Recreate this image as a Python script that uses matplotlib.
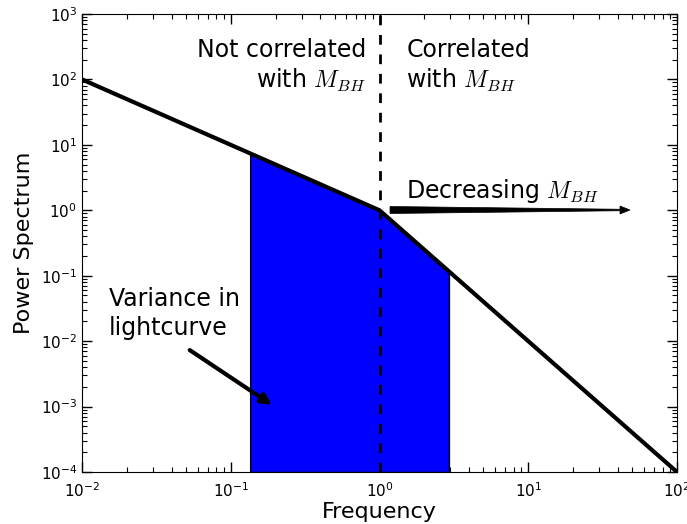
import math
import matplotlib
matplotlib.use("Agg")
import matplotlib.pyplot as plt
from matplotlib.patches import Polygon
from matplotlib.ticker import FuncFormatter, LogLocator

plt.rcParams['mathtext.fontset'] = 'cm'
plt.rcParams['font.family'] = ['DejaVu Sans']

# data
freq = [0.01, 1.0, 100.0]
power = [100.0, 1.0, 1e-4]
shade_freq = [0.135, 1.0, 2.93]
shade_power = [7.4, 1.0, 0.1165]
break_freq = 1.0

fig = plt.figure(figsize=(6.87, 5.24), dpi=100)
ax = fig.add_axes([82/687, 1 - 472/524, 595/687, 458/524])
ax.set_xscale('log')
ax.set_yscale('log')
ax.set_xlim(1e-2, 1e2)
ax.set_ylim(1e-4, 1e3)

ax.fill_between(shade_freq, [1e-4]*3, shade_power, facecolor='#0000ff',
                edgecolor='black', linewidth=1, zorder=2)
ax.plot(freq, power, color='black', lw=3, zorder=3)
ax.axvline(break_freq, color='black', lw=2, ls=(0, (3.5, 3.5)), zorder=4)

fmt = FuncFormatter(lambda v, p: r'$\mathregular{10^{%d}}$' % round(math.log10(v)))
ax.xaxis.set_major_formatter(fmt)
ax.yaxis.set_major_formatter(fmt)
ax.xaxis.set_major_locator(LogLocator(base=10, numticks=10))
ax.yaxis.set_major_locator(LogLocator(base=10, numticks=10))
ax.tick_params(which='both', direction='in', top=True, right=True, labelsize=11)
ax.tick_params(which='major', length=7, width=1)
ax.tick_params(which='minor', length=3.5, width=0.8)
ax.tick_params(axis='x', pad=7)

ax.set_xlabel('Frequency', fontsize=16, labelpad=1)
ax.set_ylabel('Power Spectrum', fontsize=16, labelpad=5)

fs = 17
ax.text(0.477, 0.948, 'Not correlated\nwith $M_{BH}$', transform=ax.transAxes,
        ha='right', va='top', fontsize=fs, linespacing=1.25)
ax.text(0.545, 0.948, 'Correlated\nwith $M_{BH}$', transform=ax.transAxes,
        ha='left', va='top', fontsize=fs, linespacing=1.25)
ax.text(0.545, 0.582, 'Decreasing $M_{BH}$', transform=ax.transAxes,
        ha='left', va='bottom', fontsize=fs)
ax.text(0.045, 0.405, 'Variance in\nlightcurve', transform=ax.transAxes,
        ha='left', va='top', fontsize=fs, linespacing=1.3)

# tapered arrow (axes coords)
x0, x1 = (390-82)/595, (630-82)/595
yc = (472-210)/458
t0, t1 = 7/458, 1.5/458
hl, hw = 10/595, 4/458
poly = [(x0, yc+t0/2), (x1-hl, yc+t1/2), (x1-hl, yc+hw), (x1, yc),
        (x1-hl, yc-hw), (x1-hl, yc-t1/2), (x0, yc-t0/2)]
ax.add_patch(Polygon(poly, closed=True, transform=ax.transAxes,
                     facecolor='black', edgecolor='black', lw=0.5, zorder=5))

ax.annotate('', xy=(0.189, 0.00106), xytext=(0.053, 0.0073),
            arrowprops=dict(arrowstyle='-|>,head_length=0.6,head_width=0.3',
                            lw=3, color='black', shrinkA=0, shrinkB=0), zorder=5)

fig.savefig('out.png', dpi=100)
